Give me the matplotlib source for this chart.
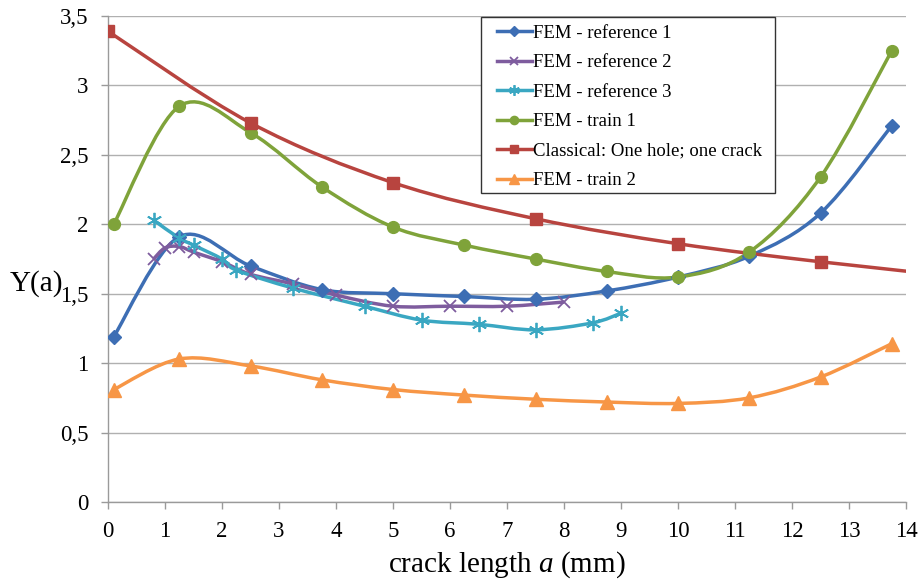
import numpy as np
import matplotlib
matplotlib.use('Agg')
import matplotlib.pyplot as plt
from matplotlib.path import Path
from matplotlib.patches import PathPatch, Rectangle
from matplotlib.lines import Line2D
from matplotlib.ticker import FuncFormatter, MultipleLocator

plt.rcParams['font.family'] = ['Liberation Serif', 'DejaVu Serif']
plt.rcParams['mathtext.fontset'] = 'custom'
plt.rcParams['mathtext.rm'] = 'Liberation Serif'
plt.rcParams['mathtext.it'] = 'Liberation Serif:italic'

# crack length a (mm) and Y(a) for each series
ref1_a = [0.1, 1.25, 2.5, 3.75, 5, 6.25, 7.5, 8.75, 10, 11.25, 12.5, 13.75]
ref1_y = [1.19, 1.91, 1.70, 1.53, 1.50, 1.48, 1.46, 1.52, 1.62, 1.77, 2.08, 2.71]

ref2_a = [0.8, 1.0, 1.25, 1.5, 2.0, 2.5, 3.25, 4.0, 5, 6, 7, 8]
ref2_y = [1.75, 1.83, 1.84, 1.80, 1.73, 1.64, 1.57, 1.49, 1.41, 1.41, 1.41, 1.44]

ref3_a = [0.8, 1.25, 1.5, 2.0, 2.25, 3.25, 4.5, 5.5, 6.5, 7.5, 8.5, 9.0]
ref3_y = [2.03, 1.90, 1.85, 1.75, 1.67, 1.54, 1.41, 1.31, 1.28, 1.24, 1.29, 1.36]

train1_a = [0.1, 1.25, 2.5, 3.75, 5, 6.25, 7.5, 8.75, 10, 11.25, 12.5, 13.75]
train1_y = [2.00, 2.85, 2.66, 2.27, 1.98, 1.85, 1.75, 1.66, 1.62, 1.80, 2.34, 3.25]

classic_a = [0, 2.5, 5, 7.5, 10, 12.5, 15]
classic_y = [3.39, 2.73, 2.30, 2.04, 1.86, 1.73, 1.62]

train2_a = [0.1, 1.25, 2.5, 3.75, 5, 6.25, 7.5, 8.75, 10, 11.25, 12.5, 13.75]
train2_y = [0.81, 1.03, 0.98, 0.88, 0.81, 0.77, 0.74, 0.72, 0.71, 0.75, 0.90, 1.14]

labels = ['FEM - reference 1', 'FEM - reference 2', 'FEM - reference 3',
          'FEM - train 1', 'Classical: One hole; one crack', 'FEM - train 2']


def smooth_path(xs, ys):
    # spreadsheet-style smoothed line: cubic bezier through every point
    p = np.column_stack([xs, ys]).astype(float)
    p = np.vstack([p[0], p, p[-1]])
    verts = [tuple(p[1])]
    codes = [Path.MOVETO]
    for i in range(1, len(p) - 2):
        c1 = p[i] + (p[i + 1] - p[i - 1]) / 6.0
        c2 = p[i + 1] - (p[i + 2] - p[i]) / 6.0
        verts += [tuple(c1), tuple(c2), tuple(p[i + 1])]
        codes += [Path.CURVE4] * 3
    return Path(verts, codes)


series = [
    (ref1_a, ref1_y, '#3D6EB4', 'D', 7.5, 1.0),
    (ref2_a, ref2_y, '#7E5C9E', 'x', 9, 1.3),
    (ref3_a, ref3_y, '#3AA7C2', (6, 2, 0), 11, 1.3),
    (train1_a, train1_y, '#7FA33A', 'o', 8.5, 1.0),
    (classic_a, classic_y, '#B8443F', 's', 8.5, 1.0),
    (train2_a, train2_y, '#F79646', '^', 9.5, 1.0),
]

fig = plt.figure(figsize=(9.19, 5.85), dpi=100)
ax = fig.add_axes([108 / 919, 83 / 585, 798 / 919, 486 / 585])

handles = []
for (xs, ys, col, mk, ms, mew), lab in zip(series, labels):
    ax.add_patch(PathPatch(smooth_path(xs, ys), facecolor='none',
                           edgecolor=col, lw=2.5, zorder=3, clip_on=True))
    ax.plot(xs, ys, ls='none', marker=mk, ms=ms, color=col, mew=mew,
            zorder=4, clip_on=True)
    handles.append(Line2D([], [], color=col, lw=2.5, marker=mk,
                          ms=ms * 0.7, mew=mew))

ax.set_xlim(0, 14)
ax.set_ylim(0, 3.5)
ax.xaxis.set_major_locator(MultipleLocator(1))
ax.yaxis.set_major_locator(MultipleLocator(0.5))
ax.yaxis.set_major_formatter(FuncFormatter(
    lambda v, pos: ('%g' % v).replace('.', ',')))

ax.grid(axis='y', color='#B0B0B0', lw=1.0)
ax.set_axisbelow(True)
for s in ['top', 'right']:
    ax.spines[s].set_visible(False)
for s in ['left', 'bottom']:
    ax.spines[s].set_color('#9A9A9A')
    ax.spines[s].set_linewidth(1.0)
ax.tick_params(axis='both', colors='#9A9A9A', length=5, width=1.0,
               labelcolor='black', labelsize=16.5)
ax.tick_params(axis='y', pad=9)
ax.tick_params(axis='x', pad=9)

ax.set_xlabel(r'crack length $a$ (mm)', fontsize=21, labelpad=5)
ax.set_ylabel('Y(a)', fontsize=21, rotation=0, va='center', ha='center')
ax.yaxis.set_label_coords(-0.09, 0.45)

# legend box drawn separately so the side padding can be wider than the top
ax.add_patch(Rectangle((481 / 919, 1 - 193 / 585), 294 / 919, 176 / 585,
                       transform=fig.transFigure, facecolor='white',
                       edgecolor='#333333', lw=1.0, zorder=5, clip_on=False))
leg = ax.legend(handles, labels, loc='upper left',
                bbox_to_anchor=(497 / 919, 1 - 24.5 / 585),
                bbox_transform=fig.transFigure, fontsize=13.5,
                frameon=False, handlelength=1.85, handletextpad=0.05,
                labelspacing=0.66, borderpad=0, borderaxespad=0)
leg.set_zorder(6)

fig.savefig('out.png', dpi=100)
